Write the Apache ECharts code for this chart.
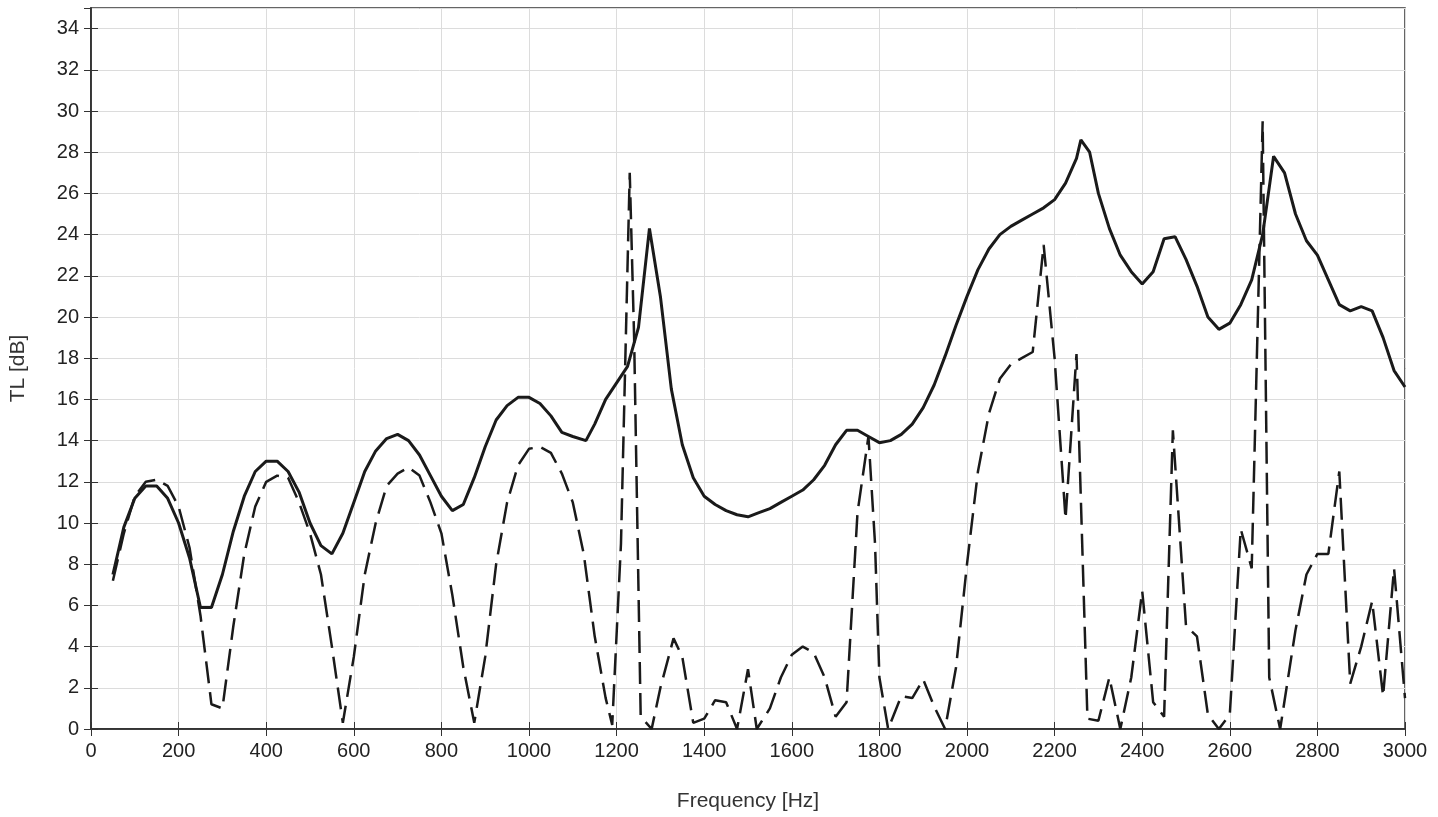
<!DOCTYPE html>
<html>
<head>
<meta charset="utf-8">
<script src="https://cdn.jsdelivr.net/npm/echarts@6/dist/echarts.min.js"></script>
<style>html,body{margin:0;padding:0;background:#fff}#echart{width:1438px;height:817px}</style>
</head>
<body>
<div id="echart"></div>
<script>
// solid curve [Hz, dB]
var solidFreq = [50,75,100,125,150,175,200,225,250,275,300,325,350,375,400,425,450,475,500,525,550,575,600,625,650,675,700,725,750,775,800,825,850,875,900,925,950,975,1000,1025,1050,1075,1100,1130,1150,1175,1200,1225,1250,1275,1300,1325,1350,1375,1400,1425,1450,1475,1500,1525,1550,1575,1600,1625,1650,1675,1700,1725,1750,1775,1800,1825,1850,1875,1900,1925,1950,1975,2000,2025,2050,2075,2100,2125,2150,2175,2200,2225,2250,2260,2280,2300,2325,2350,2375,2400,2425,2450,2475,2500,2525,2550,2575,2600,2625,2650,2675,2700,2725,2750,2775,2800,2825,2850,2875,2900,2925,2950,2975,3000];
var solidTL = [7.5,9.8,11.2,11.8,11.8,11.2,10,8.3,5.9,5.9,7.5,9.6,11.3,12.5,13.0,13.0,12.5,11.5,10,8.9,8.5,9.5,11,12.5,13.5,14.1,14.3,14.0,13.3,12.3,11.3,10.6,10.9,12.2,13.7,15,15.7,16.1,16.1,15.8,15.2,14.4,14.2,14.0,14.8,16.0,16.8,17.6,19.5,24.3,21,16.5,13.8,12.2,11.3,10.9,10.6,10.4,10.3,10.5,10.7,11.0,11.3,11.6,12.1,12.8,13.8,14.5,14.5,14.2,13.9,14.0,14.3,14.8,15.6,16.7,18.1,19.6,21.0,22.3,23.3,24.0,24.4,24.7,25.0,25.3,25.7,26.5,27.7,28.6,28.0,26.0,24.3,23.0,22.2,21.6,22.2,23.8,23.9,22.8,21.5,20.0,19.4,19.7,20.6,21.8,24.0,27.8,27.0,25.0,23.7,23.0,21.8,20.6,20.3,20.5,20.3,19.0,17.4,16.6];
// dashed curve [Hz, dB]
var dashFreq = [50,75,100,125,150,175,200,225,250,275,300,325,350,375,400,425,450,475,500,525,550,575,600,625,650,675,700,725,750,775,800,825,850,875,900,925,950,975,1000,1025,1050,1075,1100,1125,1150,1175,1190,1210,1230,1240,1255,1280,1300,1330,1350,1375,1400,1425,1450,1475,1500,1520,1550,1575,1600,1625,1650,1675,1700,1725,1750,1775,1790,1800,1820,1850,1875,1900,1925,1950,1975,2000,2025,2050,2075,2100,2125,2150,2175,2200,2225,2250,2275,2300,2325,2350,2375,2400,2425,2450,2470,2500,2525,2550,2575,2600,2625,2650,2675,2690,2715,2750,2775,2800,2825,2850,2875,2900,2925,2950,2975,3000];
var dashTL = [7.2,9.5,11.3,12.0,12.1,11.8,10.8,8.8,5.5,1.2,1.0,5,8.5,10.8,12.0,12.3,12.2,11.0,9.5,7.5,4.0,0.3,3.5,7.5,10,11.8,12.4,12.7,12.3,11.0,9.5,6.5,3.0,0.3,3.5,8,11,12.8,13.6,13.7,13.4,12.4,11.0,8.5,4.5,1.5,0.2,9,27.0,19,0.6,0.0,2.0,4.4,3.5,0.3,0.5,1.4,1.3,0.0,2.9,0.0,1.0,2.5,3.6,4.0,3.7,2.5,0.6,1.3,10.5,14.2,9,2.5,0.0,1.6,1.5,2.4,1.1,0.0,3,8,12.5,15.3,17.0,17.7,18.0,18.3,23.5,18,10.2,18.2,0.5,0.4,2.5,0.0,2.5,6.7,1.3,0.6,14.5,5.0,4.5,0.7,0.0,0.7,9.7,7.8,29.5,2.5,0.0,4.8,7.5,8.5,8.5,12.5,2.2,4.0,6.2,1.6,7.8,1.5];

function pairs(xs, ys){
	var out = [];
	for (var i = 0; i < xs.length; i++) out.push([xs[i], ys[i]]);
	return out;
}

var myChart = echarts.init(document.getElementById('echart'));
var font = 'Liberation Sans, Arial, sans-serif';
var axisLine = {show:true, lineStyle:{color:'#333', width:1.5}};
var grid = {show:true, lineStyle:{color:'#dcdcdc', width:1}};
var plain = function(v){ return String(v); };
myChart.setOption({
	animation:false,
	grid:{left:90, right:33, top:8, bottom:87, show:true, borderColor:'#333', borderWidth:1.5},
	xAxis:[{
		type:'value', min:0, max:3000, interval:200,
		name:'Frequency [Hz]', nameLocation:'middle', nameGap:62,
		nameTextStyle:{fontFamily:font, fontSize:21, color:'#333'},
		axisLine:axisLine, axisTick:{inside:true, length:7, lineStyle:{color:'#333'}},
		axisLabel:{fontFamily:font, fontSize:20, color:'#222', margin:12, formatter:plain},
		splitLine:grid
	},{
		type:'value', position:'top', min:0, max:3000, interval:200,
		axisLine:axisLine, axisTick:{inside:true, length:7, lineStyle:{color:'#333'}},
		axisLabel:{show:false}, splitLine:{show:false}
	}],
	yAxis:[{
		type:'value', min:0, max:35, interval:2,
		name:'TL [dB]', nameLocation:'middle', nameGap:62, nameRotate:90,
		nameTextStyle:{fontFamily:font, fontSize:21, color:'#333'},
		axisLine:axisLine, axisTick:{inside:true, length:7, lineStyle:{color:'#333'}},
		axisLabel:{fontFamily:font, fontSize:20, color:'#222', margin:12, showMaxLabel:false, formatter:plain},
		splitLine:grid
	},{
		type:'value', position:'right', min:0, max:35, interval:2,
		axisLine:axisLine, axisTick:{inside:true, length:7, lineStyle:{color:'#333'}},
		axisLabel:{show:false}, splitLine:{show:false}
	}],
	series:[{
		type:'line', data:pairs(dashFreq, dashTL), symbol:'none',
		lineStyle:{color:'#1a1a1a', width:2.5, type:[22,9]}
	},{
		type:'line', data:pairs(solidFreq, solidTL), symbol:'none',
		lineStyle:{color:'#1a1a1a', width:3}
	}]
});
</script>
</body>
</html>
